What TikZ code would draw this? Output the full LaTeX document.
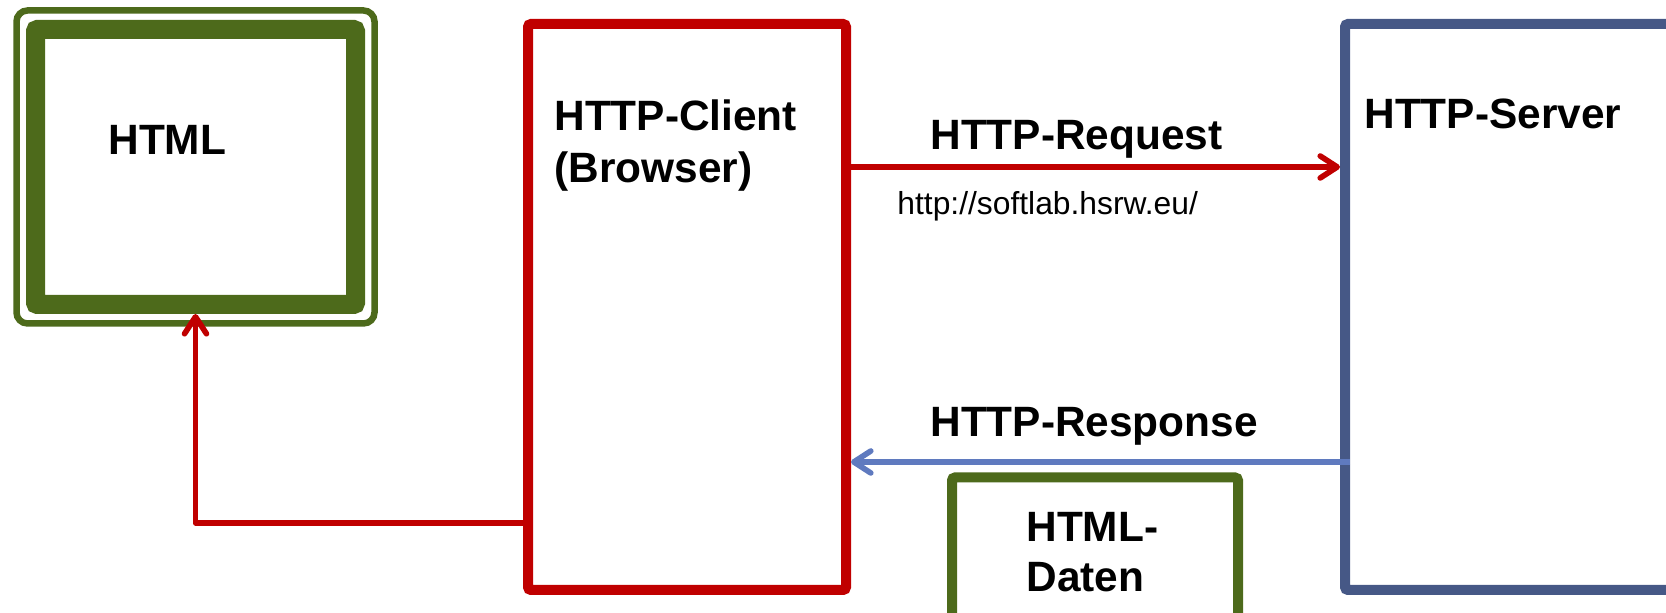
\documentclass[tikz,border=0pt]{standalone}
\usepackage{fontspec}
\setmainfont{Liberation Sans}
\usepackage{tikz}
\usetikzlibrary{positioning,arrows.meta,fit}
\usepackage{xcolor}
\definecolor{httpred}{HTML}{C00000}
\definecolor{htmlgreen}{HTML}{4D6A1B}
\definecolor{srvblue}{HTML}{465886}
\definecolor{respblue}{HTML}{5F7ABF}

\begin{document}
\begin{tikzpicture}[
    x=0.5pt, y=0.5pt,
    box/.style={draw, line width=5pt, rounded corners=1.5pt, inner sep=0pt},
    lbl/.style={font=\fontsize{21.2}{26}\selectfont\bfseries, inner sep=0pt, align=left},
    url/.style={font=\fontsize{15.9}{18}\selectfont, inner sep=0pt},
    reqarrow/.style={httpred, line width=2.8pt, line join=round, -{Straight Barb[length=8.5pt, width=11pt, round]}},
    resparrow/.style={respblue, line width=2.8pt, -{Straight Barb[length=8.5pt, width=11pt, round]}},
]
\clip (0,0) rectangle (1666,613);

% rendered page (left)
\node[draw=htmlgreen, line width=9.5pt, rounded corners=1pt, minimum width=160pt, minimum height=137.5pt] (html) at (195.5,446) {};
\node[draw=htmlgreen, line width=3.25pt, rounded corners=5.5pt, fit=(html), inner sep=4.75pt] (htmlrim) {};
\node[lbl, below right=52.5pt and 41pt of html.north west] (htmllbl) {HTML};

% client and server
\node[box, draw=httpred, minimum width=159pt, minimum height=283pt] (client) at (687,306) {};
\node[lbl, below right=40pt and 15.5pt of client.north west] (clientlbl) {HTTP-Client\\(Browser)};
\node[box, draw=srvblue, minimum width=177.5pt, minimum height=283pt] (server) at (1522.5,306) {};
\node[lbl, below right=40pt and 12pt of server.north west] (serverlbl) {HTTP-Server};

% payload
\node[box, draw=htmlgreen, minimum width=143pt, minimum height=82.75pt] (daten) at (1095,52.75) {};
\node[lbl, below right=19.5pt and 39.5pt of daten.north west, font=\fontsize{21.2}{25}\selectfont\bfseries] (datenlbl) {HTML-\\Daten};

% request / response
\draw[reqarrow] ([yshift=-74pt]client.north east) -- ([yshift=-74pt]server.north west);
\node[lbl, anchor=base west] (reqlbl) at (930,463) {HTTP-Request};
\node[url, anchor=base west] (urllbl) at (897,398) {http://softlab.hsrw.eu/};
\draw[resparrow] ([xshift=5pt, yshift=-221.5pt]server.north west) -- ([yshift=-221.5pt]client.north east);
\node[lbl, anchor=base west] (resplbl) at (930,176) {HTTP-Response};

% browser renders the page
\draw[reqarrow] ([yshift=36pt]client.south west) -| (html.south);
\end{tikzpicture}
\end{document}
